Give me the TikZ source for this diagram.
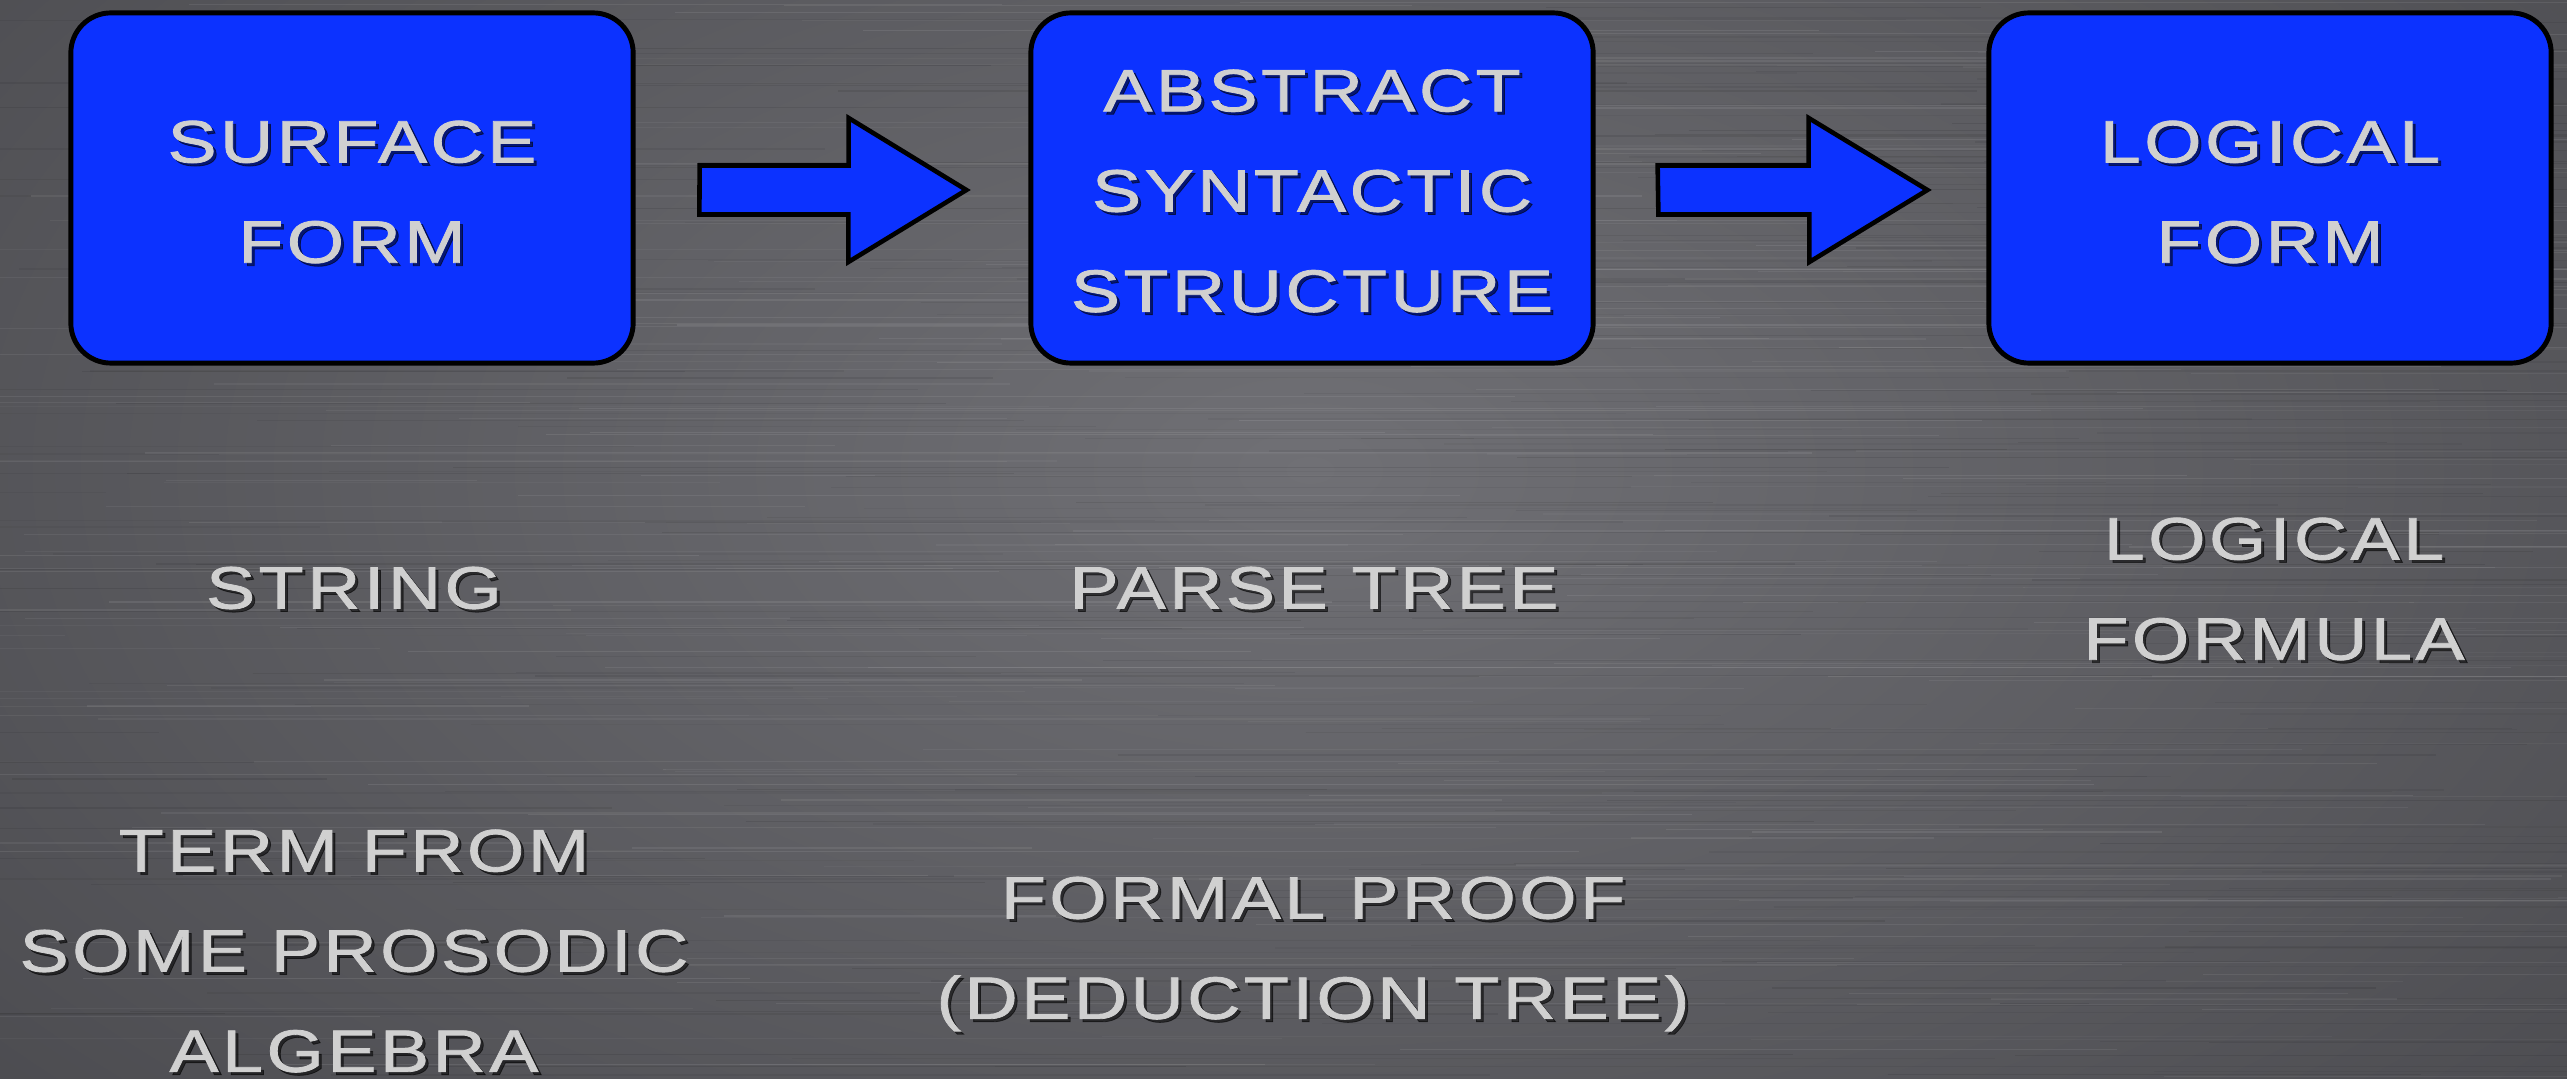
\documentclass[tikz,border=0pt]{standalone}
\usepackage{fontspec}
\newfontfamily\cp[FakeStretch=1.23,LetterSpace=6,FakeBold=1.3]{Liberation Sans}
\usetikzlibrary{calc}
\definecolor{boxblue}{RGB}{12,50,255}
\definecolor{txt}{RGB}{208,208,208}
\definecolor{bgin}{RGB}{112,112,117}
\definecolor{bgout}{RGB}{56,56,60}
\begin{document}
\begin{tikzpicture}[x=0.01cm,y=-0.01cm,
  box/.style={draw=black,line width=1.4pt,fill=boxblue,rounded corners=0.4cm,minimum width=5.62cm,minimum height=3.5cm,inner sep=0pt},
  lab/.style={text=txt,align=center,inner sep=0pt,font=\fontsize{17pt}{28.5pt}\selectfont\cp},
  shad/.style={lab,text=black,opacity=0.55},
  barrow/.style={draw=black,line width=1.3pt,fill=boxblue,line join=miter}]
\useasboundingbox (0,0) rectangle (2567,1079);
% background
\begin{scope}
\clip (0,0) rectangle (2567,1079);
\fill[bgout] (0,0) rectangle (2567,1079);
\shade[inner color=bgin,outer color=bgout] (1310,470) ellipse (2700 and 1500);
\pgfmathsetseed{7}
\foreach \i in {1,...,500}{
  \pgfmathsetmacro\yy{rnd*1079}
  \pgfmathsetmacro\xa{rnd*2567-300}
  \pgfmathsetmacro\ln{300+rnd*1500}
  \pgfmathsetmacro\op{0.03+rnd*0.06}
  \ifodd\i
    \draw[white,opacity=\op,line width=0.35pt] (\xa,\yy) -- ++(\ln,0);
  \else
    \draw[black,opacity=\op,line width=0.35pt] (\xa,\yy) -- ++(\ln,0);
  \fi
}
\end{scope}
% boxes
\node[box] (b1) at (352,188) {};
\node[box] (b2) at (1312,188) {};
\node[box] (b3) at (2270,188) {};
% arrows
\coordinate (s1) at ($(b1.east)+(64,2)$);
\coordinate (t1) at ($(b2.west)+(-62,2)$);
\coordinate (s2) at ($(b2.east)+(62,2)$);
\coordinate (t2) at ($(b3.west)+(-59,2)$);
\draw[barrow] (s1) ++(0,-24.5) -- ++(149,0) -- ++(0,-47.5) -- (t1) -- ++(-118,72) -- ++(0,-47.5) -- ++(-149,0) -- cycle;
\draw[barrow] (s2) ++(0,-24.5) -- ++(151,0) -- ++(0,-47.5) -- (t2) -- ++(-118,72) -- ++(0,-47.5) -- ++(-151,0) -- cycle;
% labels with shadows
\newcommand\lbl[3]{%
  \node[shad] at ($(#1)+(3,3)$) {#3};
  \node[lab] (#2) at (#1) {#3};}
\lbl{352,192}{l1}{SURFACE\\FORM}
\lbl{1312,191}{l2}{ABSTRACT\\SYNTACTIC\\STRUCTURE}
\lbl{2270,192}{l3}{LOGICAL\\FORM}
\lbl{354,588}{l4}{STRING}
\lbl{1314,588}{l5}{PARSE TREE}
\lbl{2274,589}{l6}{LOGICAL\\FORMULA}
\lbl{354,951}{l7}{TERM FROM\\SOME PROSODIC\\ALGEBRA}
\lbl{1313,954}{l8}{FORMAL PROOF\\(DEDUCTION TREE)}
\end{tikzpicture}
\end{document}
